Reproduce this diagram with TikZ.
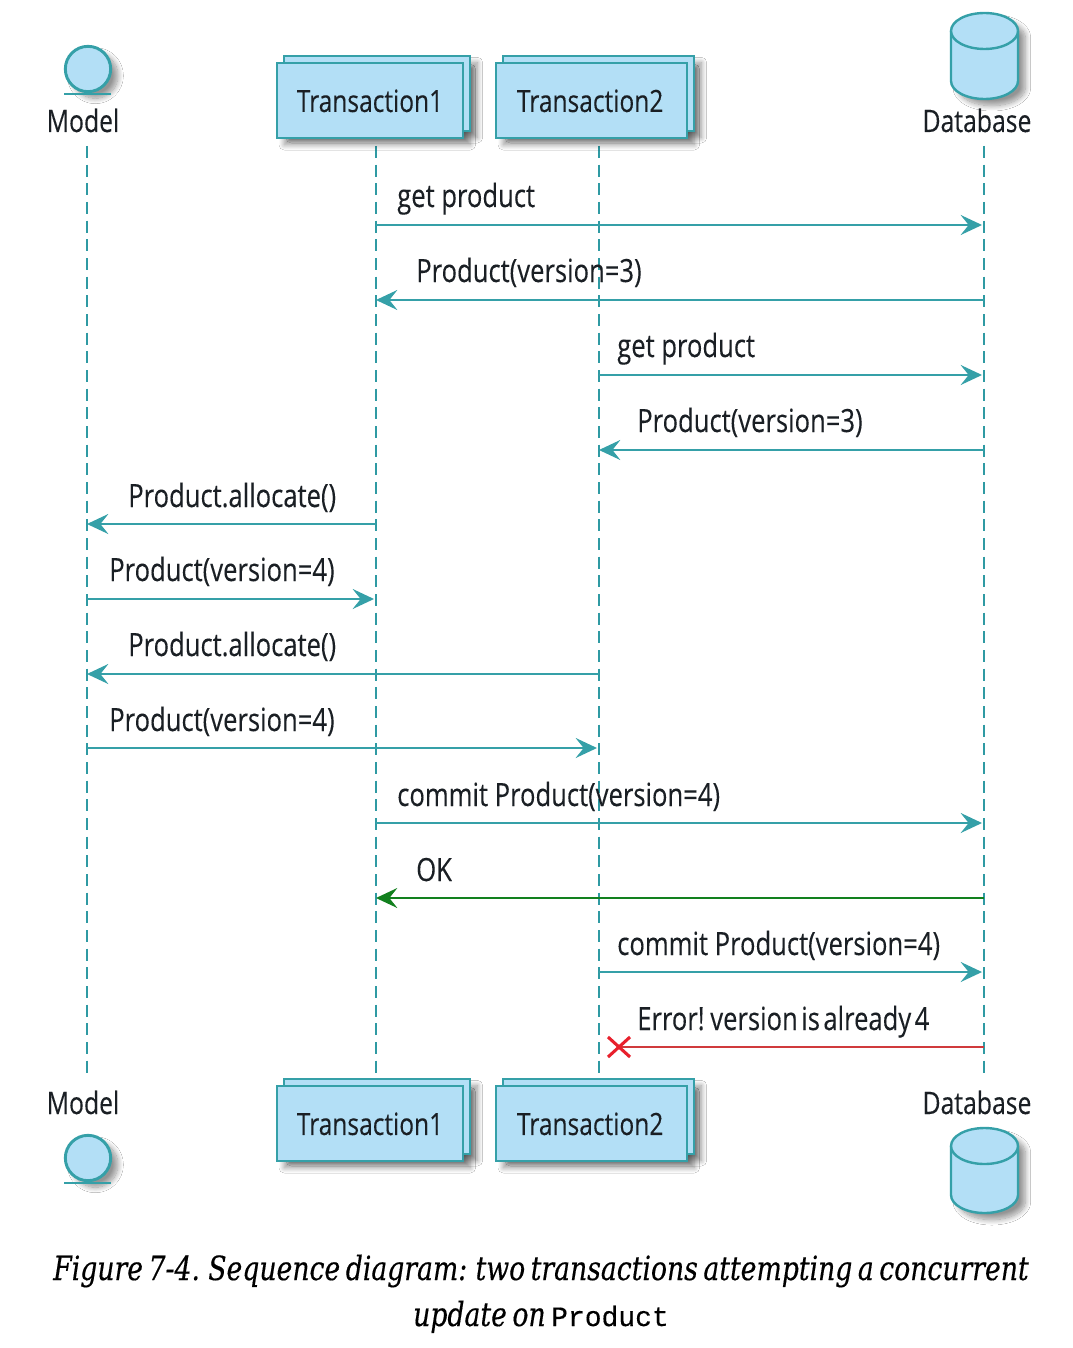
\documentclass[tikz,border=0pt]{standalone}
\usepackage{fontspec}
\setmainfont[FakeStretch=0.80,FakeBold=0.15]{Open Sans}
\newfontfamily\capfont[FakeStretch=0.80,WordSpace=0.65,FakeBold=0.35]{DejaVu Serif}
\newfontfamily\capmono[FakeBold=0.3]{Liberation Mono}
\usetikzlibrary{arrows.meta,shadows.blur,shapes.geometric}
\definecolor{tealline}{HTML}{35A0A8}
\definecolor{tealdark}{HTML}{2F9AA3}
\definecolor{boxfill}{HTML}{B3DFF6}
\definecolor{okgreen}{HTML}{12801E}
\definecolor{errred}{HTML}{D03A3C}
\definecolor{xred}{HTML}{E8202C}
\definecolor{inktext}{HTML}{1A1F24}
\tikzset{
  x=0.75pt,y=-0.75pt,
  lifeline/.style={draw=tealdark,line width=1.1pt,dash pattern=on 9pt off 5pt},
  msgtip/.style={-{Stealth[length=16pt,width=15pt,inset=6pt]}},
  msg/.style={draw=tealline,line width=1.5pt,color=tealline,msgtip,shorten >=1.5pt},
  msgleft/.style={draw=tealline,line width=1.5pt,color=tealline,msgtip},
  okmsg/.style={draw=okgreen,line width=1.2pt,color=okgreen,msgtip},
  errmsg/.style={draw=errred,line width=1.3pt},
  msglabel/.style={anchor=base west,inner sep=0pt,font=\fontsize{24}{24}\selectfont,text=inktext},
  actorlabel/.style={anchor=base,inner sep=0pt,font=\fontsize{23.2}{24}\selectfont,text=inktext},
  softshadow/.style={blur shadow={shadow xshift=5.5pt,shadow yshift=-5pt,shadow blur radius=4pt,shadow blur steps=12,shadow opacity=42}},
  partback/.style={draw=tealline,fill=boxfill,line width=1.6pt,minimum height=56.25pt,inner sep=0pt,outer sep=0pt,anchor=north west,softshadow},
  partfront/.style={draw=tealline,fill=boxfill,line width=1.6pt,minimum height=56.25pt,inner sep=0pt,outer sep=0pt,anchor=north west,text=inktext,font=\fontsize{23}{23}\selectfont,text height=21.6pt,text depth=4.4pt},
  actorhead/.style={draw=tealline,fill=boxfill,line width=2.2pt,circle,minimum size=34pt,inner sep=0pt,softshadow},
  dbshape/.style={draw=tealline,fill=boxfill,line width=1.8pt},
  captext/.style={inner sep=0pt,anchor=base,text=black,font=\capfont\itshape\fontsize{25}{25}\selectfont},
}
\begin{document}
\begin{tikzpicture}
\useasboundingbox (0,0) rectangle (1072,1348);
\fill[white] (0,0) rectangle (1072,1348);

% lifeline ends
\coordinate (Mhead) at (87,146);  \coordinate (Mfoot) at (87,1075);
\coordinate (Ahead) at (376,146); \coordinate (Afoot) at (376,1075);
\coordinate (Bhead) at (599,146); \coordinate (Bfoot) at (599,1075);
\coordinate (Dhead) at (984,146); \coordinate (Dfoot) at (984,1075);
\draw[lifeline] (Mhead) -- (Mfoot);
\draw[lifeline] (Ahead) -- (Afoot);
\draw[lifeline] (Bhead) -- (Bfoot);
\draw[lifeline] (Dhead) -- (Dfoot);

% rows
\foreach \n/\y in {1/225,2/300,3/375,4/450,5/524,6/599,7/674,8/748,9/823,10/898,11/972,12/1047}
  \coordinate (r\n) at (0,\y);

% top participants
\node[actorhead] (modeltop) at (88,69) {};
\coordinate (modeltopL) at (64,94); \coordinate (modeltopR) at (111,94);
\draw[draw=tealline,line width=2.2pt] (modeltopL) -- (modeltopR);
\node[actorlabel] (modeltoplabel) at (83,132) {Model};

\path[fill=boxfill,softshadow] (277,63) rectangle ++(186,75);
\node[partback,minimum width=139.5pt] (atopback) at (284,56) {};
\node[partfront,minimum width=139.5pt] (atop) at (277,63) {Transaction1};
\path[fill=boxfill,softshadow] (496,63) rectangle ++(191,75);
\node[partback,minimum width=143.25pt] (btopback) at (503,56) {};
\node[partfront,minimum width=143.25pt] (btop) at (496,63) {Transaction2\hspace*{2pt}};

\fill[boxfill,softshadow] (951,31) -- (951,81) arc[start angle=180,end angle=0,x radius=33.5,y radius=18] -- (1018,31) arc[start angle=0,end angle=-180,x radius=33.5,y radius=18] -- cycle;
\draw[dbshape] (951,31) -- (951,81) arc[start angle=180,end angle=0,x radius=33.5,y radius=18] -- (1018,31) arc[start angle=0,end angle=-180,x radius=33.5,y radius=18] -- cycle;
\draw[dbshape] (951,31) arc[start angle=180,end angle=0,x radius=33.5,y radius=18];
\node[actorlabel] (dbtoplabel) at (977,132) {Database};

% bottom participants
\node[actorlabel] (modelbotlabel) at (83,1114) {Model};
\node[actorhead] (modelbot) at (88,1158) {};
\coordinate (modelbotL) at (64,1183); \coordinate (modelbotR) at (111,1183);
\draw[draw=tealline,line width=2.2pt] (modelbotL) -- (modelbotR);

\path[fill=boxfill,softshadow] (277,1086) rectangle ++(186,75);
\node[partback,minimum width=139.5pt] (abotback) at (284,1079) {};
\node[partfront,minimum width=139.5pt] (abot) at (277,1086) {Transaction1};
\path[fill=boxfill,softshadow] (496,1086) rectangle ++(191,75);
\node[partback,minimum width=143.25pt] (bbotback) at (503,1079) {};
\node[partfront,minimum width=143.25pt] (bbot) at (496,1086) {Transaction2\hspace*{2pt}};

\node[actorlabel] (dbbotlabel) at (977,1114) {Database};
\fill[boxfill,softshadow] (951,1146) -- (951,1195) arc[start angle=180,end angle=0,x radius=33.5,y radius=18] -- (1018,1146) arc[start angle=0,end angle=-180,x radius=33.5,y radius=18] -- cycle;
\draw[dbshape] (951,1146) -- (951,1195) arc[start angle=180,end angle=0,x radius=33.5,y radius=18] -- (1018,1146) arc[start angle=0,end angle=-180,x radius=33.5,y radius=18] -- cycle;
\draw[dbshape] (951,1146) arc[start angle=180,end angle=0,x radius=33.5,y radius=18];

% messages
\draw[msg] (Ahead |- r1) -- (Dhead |- r1);
\draw[msgleft] (Dhead |- r2) -- (Ahead |- r2);
\draw[msg] (Bhead |- r3) -- (Dhead |- r3);
\draw[msgleft] (Dhead |- r4) -- (Bhead |- r4);
\draw[msgleft] (Ahead |- r5) -- (Mhead |- r5);
\draw[msg] (Mhead |- r6) -- (Ahead |- r6);
\draw[msgleft] (Bhead |- r7) -- (Mhead |- r7);
\draw[msg] (Mhead |- r8) -- (Bhead |- r8);
\draw[msg] (Ahead |- r9) -- (Dhead |- r9);
\draw[okmsg] (Dhead |- r10) -- (Ahead |- r10);
\draw[msg] (Bhead |- r11) -- (Dhead |- r11);
\coordinate (xmark) at (619,1047);
\draw[errmsg] (Dhead |- r12) -- (xmark);
\draw[xred,line width=2.3pt] ([shift={(-11,-10)}]xmark) -- ([shift={(11,10)}]xmark);
\draw[xred,line width=2.3pt] ([shift={(-11,10)}]xmark) -- ([shift={(11,-10)}]xmark);

% message labels
\node[msglabel] (l1) at (397,207) {get product};
\node[msglabel] (l2) at (416,282) {Product(version=3)};
\node[msglabel] (l3) at (617,357) {get product};
\node[msglabel] (l4) at (637,432) {Product(version=3)};
\node[msglabel] (l5) at (128,507) {Product.allocate()};
\node[msglabel] (l6) at (109,581) {Product(version=4)};
\node[msglabel] (l7) at (128,656) {Product.allocate()};
\node[msglabel] (l8) at (109,731) {Product(version=4)};
\node[msglabel] (l9) at (397,806) {commit Product(version=4)};
\node[msglabel] (l10) at (416,881) {OK};
\node[msglabel] (l11) at (617,955) {commit Product(version=4)};
\node[msglabel] (l12) at (637,1030) {\spaceskip=2.6pt Error! version is already 4};

% caption
\node[captext] (cap1) at (541,1280) {Figure 7-4. Sequence diagram: two transactions attempting a concurrent};
\node[captext] (cap2) at (541,1326) {update on {\capmono\upshape\fontsize{21}{21}\selectfont Product}};
\end{tikzpicture}
\end{document}
